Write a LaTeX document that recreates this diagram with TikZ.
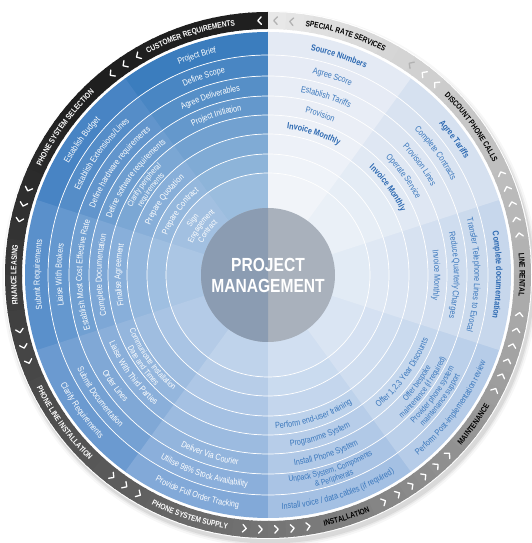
\documentclass[tikz,border=0pt]{standalone}
\usepackage{fontspec}
\setmainfont{Liberation Sans}
\newfontfamily\cfont{Liberation Sans}[FakeStretch=0.82]
\usetikzlibrary{decorations.text}
\definecolor{s0}{HTML}{3B7DBE}
\definecolor{s1}{HTML}{4884C4}
\definecolor{s2}{HTML}{5A90CB}
\definecolor{s3}{HTML}{6B9AD0}
\definecolor{s4}{HTML}{82A9D8}
\definecolor{s5}{HTML}{A4C0E3}
\definecolor{s6}{HTML}{B6CCE8}
\definecolor{s7}{HTML}{C7D7EC}
\definecolor{s8}{HTML}{D6E1F0}
\definecolor{s9}{HTML}{E4EAF4}
\definecolor{rtblue}{HTML}{3A77BC}
\definecolor{rtbold}{HTML}{2B68B1}
\definecolor{pmleft}{HTML}{8B9CB2}
\definecolor{pmright}{HTML}{A9B1BC}
\newcommand\fmtw{\cfont\fontsize{8.8}{9}\selectfont\color{white}}
\newcommand\fmtb{\cfont\fontsize{8.8}{9}\selectfont\color{rtblue}}
\newcommand\fmtws{\cfont\fontsize{8.2}{9}\selectfont\color{white}}
\newcommand\fmtbs{\cfont\fontsize{8.2}{9}\selectfont\color{rtblue}}
\newcommand\fmtbb{\cfont\bfseries\fontsize{8.8}{9}\selectfont\color{rtbold}}
\newcommand\fmtlw{\cfont\bfseries\fontsize{8}{9}\selectfont\color{white}}
\newcommand\fmtlk{\cfont\bfseries\fontsize{8}{9}\selectfont\color{black}}
\newcommand\arctop[4]{\path[decorate,decoration={text along path,text align=center,text={|#3|#4}}] (#1+30:#2) arc[start angle=#1+30,end angle=#1-30,radius=#2];}
\newcommand\arcbot[4]{\path[decorate,decoration={text along path,text align=center,text={|#3|#4}}] (#1-30:#2) arc[start angle=#1-30,end angle=#1+30,radius=#2];}
\tikzset{chev/.style={line width=1.3,line cap=round,line join=round}}
\begin{document}
\begin{tikzpicture}[x=1pt,y=1pt]
\useasboundingbox (0,0) rectangle (532,543);
\begin{scope}[shift={(268,268)}]
% shadow
\foreach \r/\op in {268/0.03,266/0.05,264.5/0.07}{
  \fill[black,opacity=\op] (2,-4) circle[radius=\r];
}
\fill[white] (0,0) circle[radius=264];
% outer band
\foreach \p in {0,2,...,358}{
  \pgfmathtruncatemacro\bl{\p<50 ? 88 : 88-(\p-50)*0.255}
  \pgfmathsetmacro\ta{90+\p}
  \pgfmathsetmacro\tb{min(90+\p+2.4,450)}
  \fill[black!\bl!white] (\ta:246) arc[start angle=\ta,end angle=\tb,radius=246] -- (\tb:263) arc[start angle=\tb,end angle=\ta,radius=263] -- cycle;
}
% sector cells
\foreach \k in {0,...,9}{
  \pgfmathsetmacro\aa{90+36*\k}
  \pgfmathsetmacro\ab{90+36*\k+(\k<9 ? 36.4 : 36)}
  \foreach \j/\ro/\ri in {0/243/220,1/220/199,2/199/179,3/179/160,4/160/141,5/141/121,6/121/102,7/102/60}{
    \pgfmathtruncatemacro\pc{100-7*\j}
    \fill[s\k!\pc!white] (\aa:\ri) -- (\aa:\ro) arc[start angle=\aa,end angle=\ab,radius=\ro] -- (\ab:\ri) arc[start angle=\ab,end angle=\aa,radius=\ri] -- cycle;
  }
}
\foreach \r in {220,199,179,160,141,121,102}{
  \draw[white,line width=0.7] (0,0) circle[radius=\r];
}
% centre disc
\fill[pmright] (0,0) circle[radius=67];
\fill[pmleft] (90:67) arc[start angle=90,end angle=270,radius=67] -- cycle;
% chevrons
\foreach \k/\h/\cc in {0/10.7/white,1/11.1/white,2/7.6/white,3/11.6/white,4/9.6/white,5/6.1/white,6/5.6/white,7/5.6/white,8/10.1/white,9/10.7/black!30}{
  \pgfmathsetmacro\m{108+36*\k}
  \foreach \i in {0,...,10}{
    \pgfmathsetmacro\a{90+36*\k+1.9+3.6*\i}
    \pgfmathtruncatemacro\ok{(abs(\a-\m)>\h+2) && (\a<90+36*\k+35)}
    \ifnum\ok=1
      \begin{scope}[shift={(\a:254.5)},rotate=\a+90]
        \draw[chev,\cc] (-1.8,3.8) -- (1.8,0) -- (-1.8,-3.8);
      \end{scope}
    \fi
  }
}
% band labels
\arctop{108}{251.6}{\fmtlw}{CUSTOMER REQUIREMENTS}
\arctop{144}{251.6}{\fmtlw}{PHONE SYSTEM SELECTION}
\arctop{180}{251.6}{\fmtlw}{FINANCE LEASING}
\arcbot{216}{257.4}{\fmtlw}{PHONE LINE INSTALLATION}
\arcbot{252}{257.4}{\fmtlw}{PHONE SYSTEM SUPPLY}
\arcbot{288}{257.4}{\fmtlk}{INSTALLATION}
\arcbot{324}{257.4}{\fmtlk}{MAINTENANCE}
\arctop{0}{251.6}{\fmtlk}{LINE RENTAL}
\arctop{36}{251.6}{\fmtlk}{DISCOUNT PHONE CALLS}
\arctop{72}{251.6}{\fmtlk}{SPECIAL RATE SERVICES}
% Customer requirements
\arctop{108}{228.35}{\fmtw}{Project Brief}
\arctop{108}{206.35}{\fmtw}{Define Scope}
\arctop{108}{185.85}{\fmtw}{Agree Deliverables}
\arctop{108}{166.35}{\fmtw}{Project Initiation}
% Phone system selection
\arctop{144}{228.35}{\fmtw}{Establish Budget}
\arctop{144}{206.35}{\fmtw}{Establish Extensions/Lines}
\arctop{144}{185.85}{\fmtw}{Define hardware requirements}
\arctop{144}{166.35}{\fmtw}{Define software requirements}
\arctop{144}{152.05}{\fmtws}{Clarify peripheral}
\arctop{144}{143.05}{\fmtws}{requirements}
\arctop{144}{127.85}{\fmtw}{Prepare Quotation}
\arctop{144}{108.35}{\fmtw}{Prepare Contract}
\arctop{144}{90.55}{\fmtws}{Sign}
\arctop{144}{81.55}{\fmtws}{Engagement}
\arctop{144}{72.55}{\fmtws}{Contract}
% Finance leasing
\arctop{180}{228.35}{\fmtw}{Submit Requirements}
\arctop{180}{206.35}{\fmtw}{Liaise With Brokers}
\arctop{180}{185.85}{\fmtw}{Establish Most Cost Effective Rate}
\arctop{180}{166.35}{\fmtw}{Complete Documentation}
\arctop{180}{147.35}{\fmtw}{Finalise Agreement}
% Phone line installation
\arcbot{216}{234.65}{\fmtw}{Clarify Requirements}
\arcbot{216}{212.65}{\fmtw}{Submit Documentation}
\arcbot{216}{192.15}{\fmtw}{Order Lines}
\arcbot{216}{172.65}{\fmtw}{Liaise With Third Parties}
\arcbot{216}{148.95}{\fmtws}{Communicate Installation}
\arcbot{216}{157.95}{\fmtws}{Date and Times}
% Phone system supply
\arcbot{252}{234.65}{\fmtw}{Provide Full Order Tracking}
\arcbot{252}{212.65}{\fmtw}{Utilise 98{\%} Stock Availability}
\arcbot{252}{192.15}{\fmtw}{Deliver Via Courier}
% Installation
\arcbot{288}{234.65}{\fmtb}{Install voice / data cables (if required)}
\arcbot{288}{207.95}{\fmtbs}{Unpack System, Components}
\arcbot{288}{216.95}{\fmtbs}{{\&} Peripherals}
\arcbot{288}{192.15}{\fmtb}{Install Phone System}
\arcbot{288}{172.65}{\fmtb}{Programme System}
\arcbot{288}{153.65}{\fmtb}{Perform end-user training}
% Maintenance
\arcbot{324}{234.65}{\fmtb}{Perform Post-implementation review}
\arcbot{324}{207.95}{\fmtbs}{Provider phone system}
\arcbot{324}{216.95}{\fmtbs}{maintenance support}
\arcbot{324}{187.45}{\fmtbs}{Offer bespoke}
\arcbot{324}{196.45}{\fmtbs}{maintenance (if required)}
\arcbot{324}{172.65}{\fmtb}{Offer 1,2,3 Year Discounts}
% Line rental
\arctop{0}{228.35}{\fmtbb}{Complete documentation}
\arctop{0}{206.35}{\fmtb}{Transfer Telephone Lines to Evocal}
\arctop{0}{185.85}{\fmtb}{Reduce Quarterly Charges}
\arctop{0}{166.35}{\fmtb}{Invoice Monthly}
% Discount phone calls
\arctop{36}{228.35}{\fmtbb}{Agree Tariffs}
\arctop{36}{206.35}{\fmtb}{Complete Contracts}
\arctop{36}{185.85}{\fmtb}{Provision Lines}
\arctop{36}{166.35}{\fmtb}{Operate Service}
\arctop{36}{147.35}{\fmtbb}{Invoice Monthly}
% Special rate services
\arctop{72}{228.35}{\fmtbb}{Source Numbers}
\arctop{72}{206.35}{\fmtb}{Agree Score}
\arctop{72}{185.85}{\fmtb}{Establish Tariffs}
\arctop{72}{166.35}{\fmtb}{Provision}
\arctop{72}{147.35}{\fmtbb}{Invoice Monthly}
% centre title
\node[text=white,font=\cfont\bfseries\fontsize{19}{21}\selectfont,align=center,inner sep=0] (pm) at (0,0) {PROJECT\\MANAGEMENT};
\end{scope}
\end{tikzpicture}
\end{document}
